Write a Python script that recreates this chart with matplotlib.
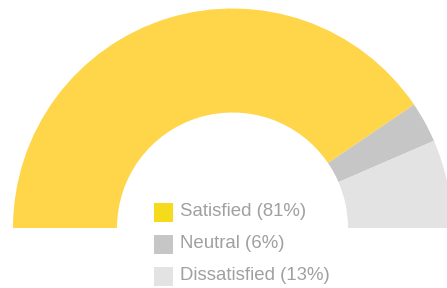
import matplotlib
matplotlib.use('Agg')
from matplotlib import pyplot as plt
from matplotlib.patches import Rectangle

# Datos del gráfico
labels = ['Satisfied', 'Neutral', 'Dissatisfied']
values = [81, 6, 13]
colors = ['#FFD54A', '#C6C6C6', '#E3E3E3']
swatch_colors = ['#F6DB1C', '#C6C6C6', '#E3E3E3']

W, H = 447, 288
fig = plt.figure(figsize=(W / 100, H / 100), dpi=100)
ax = fig.add_axes([0, 0, 1, 1])

# medio anillo: se agrega un trozo invisible igual al total
cx, cy = 232.5, H - 228
r_out, r_in = 219.5, 115.5
wedges, _ = ax.pie(values + [sum(values)], colors=colors + ['none'],
                   startangle=180, counterclock=False,
                   center=(cx, cy), radius=r_out,
                   wedgeprops=dict(width=r_out - r_in, linewidth=0))
wedges[-1].set_visible(False)

# leyenda manual
for i, (lab, val, col) in enumerate(zip(labels, values, swatch_colors)):
    yc = H - (212 + i * 32)
    ax.add_patch(Rectangle((153.5, yc - 9.5), 19, 19, color=col, lw=0))
    ax.text(180, yc, f"{lab} ({val}%)", va='center', ha='left',
            fontsize=13.4, color='#A0A0A0', family='Liberation Sans')

ax.set_xlim(0, W)
ax.set_ylim(0, H)
ax.set_aspect('auto')
ax.axis('off')
fig.savefig('out.png', dpi=100)
